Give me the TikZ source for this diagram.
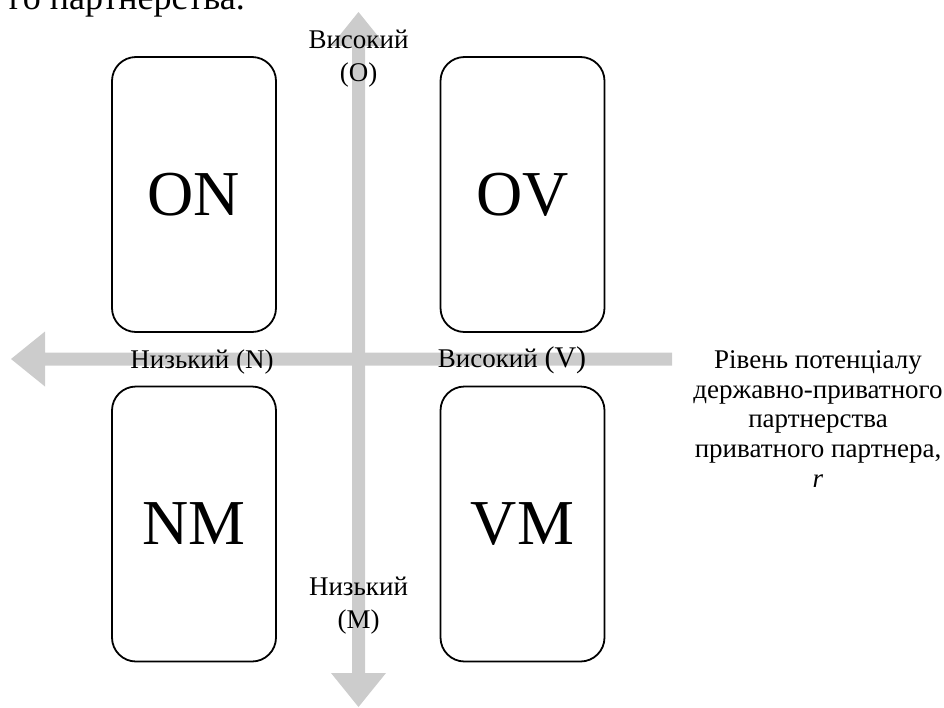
\documentclass[tikz,border=0pt]{standalone}
\usepackage{fontspec}
\setmainfont{Liberation Serif}
\usetikzlibrary{calc}
\definecolor{axisgray}{RGB}{204,204,204}
\begin{document}
\begin{tikzpicture}[x=1pt,y=-1pt,
  quad/.style={draw, line width=1.8pt, rounded corners=24pt, minimum width=164pt, minimum height=275pt, inner sep=0pt, font=\fontsize{64}{70}\selectfont},
  lab/.style={inner sep=0pt, anchor=base, font=\fontsize{27}{30}\selectfont},
  axisfill/.style={fill=axisgray, draw=none}]
\useasboundingbox (0,0) rectangle (944,707);
% top cut-off text line
\node[inner sep=0pt, anchor=base east, font=\fontsize{36}{40}\selectfont] (cut) at (245,9) {го партнерства.};
% axes
\coordinate (hTip) at (11,359);
\coordinate (hEnd) at (672,359);
\coordinate (vTop) at (358.5,12);
\coordinate (vBot) at (358.5,707);
\fill[axisfill] (hTip) -- ++(34,-27.5) -- ++(0,21) -- ($(hEnd)+(0,-6.5)$) -- ($(hEnd)+(0,6.5)$) -- ($(hTip)+(34,6.5)$) -- ++(0,21) -- cycle;
\fill[axisfill] (vTop) -- ++(27.5,34) -- ++(-21,0) -- ($(vBot)+(6.5,-34)$) -- ++(21,0) -- (vBot) -- ++(-27.5,-34) -- ++(21,0) -- ($(vTop)+(-6.5,34)$) -- ++(-21,0) -- cycle;
% quadrant boxes
\node[quad] (ON) at (194,194.5) {ON};
\node[quad] (OV) at (522.5,194.5) {OV};
\node[quad] (NM) at (194,524) {NM};
\node[quad] (VM) at (522.5,524) {VM};
% axis labels
\node[lab] (o1) at (358.5,48) {Високий};
\node[lab] (o2) at (358.5,81) {(O)};
\node[lab] (m1) at (358.5,595) {Низький};
\node[lab] (m2) at (358.5,628) {(M)};
\node[lab] (nl) at (202,368) {Низький (N)};
\node[lab] (vl) at (512,367) {Високий {\fontsize{30}{30}\selectfont(V)}};
% right description
\node[lab] (r1) at (818,368) {Рівень потенціалу};
\node[lab] (r2) at (818,398) {державно-приватного};
\node[lab] (r3) at (818,427.5) {партнерства};
\node[lab] (r4) at (818,457) {приватного партнера,};
\node[lab] (r5) at (818,487.5) {\textit{r}};
\end{tikzpicture}
\end{document}
